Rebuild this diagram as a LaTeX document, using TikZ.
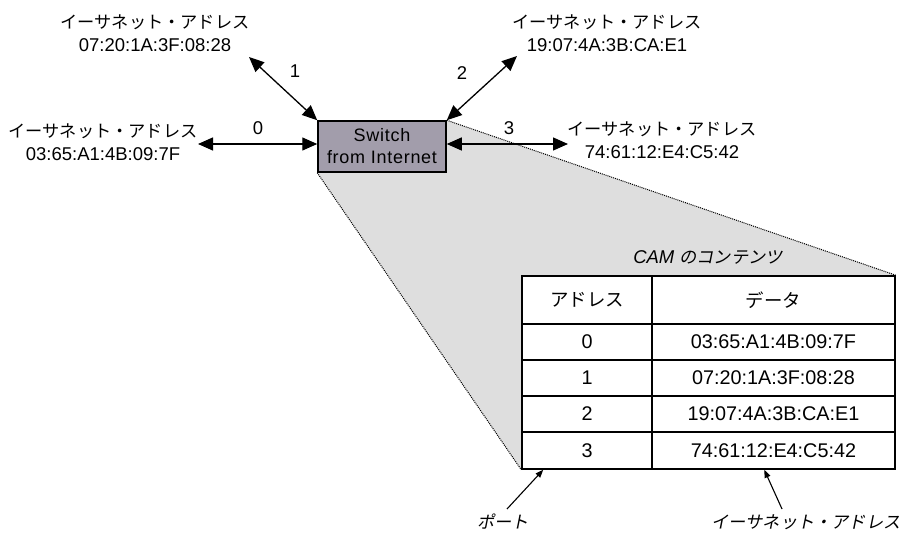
\documentclass[tikz,border=0pt]{standalone}
\usepackage{fontspec}
\setmainfont{Liberation Sans}
\newfontfamily\jp[Scale=0.93]{Noto Sans CJK JP}
\newfontfamily\jpit[Scale=0.93,FakeSlant=0.2]{Noto Sans CJK JP}
\usetikzlibrary{arrows.meta,backgrounds,calc}
\definecolor{swfill}{HTML}{A29DAB}
\definecolor{shadegray}{HTML}{DEDEDE}
\tikzset{
  lbl/.style={align=center,inner sep=0pt,font=\fontsize{18.5}{23}\selectfont},
  num/.style={inner sep=0pt,font=\fontsize{18.5}{22}\selectfont},
  dbl/.style={line width=1.3pt,{Triangle[length=15pt,width=13pt]}-{Triangle[length=15pt,width=13pt]}},
  sgl/.style={line width=1.1pt,-{Triangle[length=8pt,width=6pt]}},
  switchbox/.style={draw,line width=1.5pt,fill=swfill,align=center,inner sep=0pt,
    minimum width=128pt,minimum height=51pt,font=\fontsize{18}{22}\selectfont\addfontfeature{LetterSpace=4}},
  cell/.style={draw,line width=1.5pt,fill=white,inner sep=0pt,font=\fontsize{19.8}{24}\selectfont},
  dotline/.style={line width=1pt,densely dotted}
}
\begin{document}
\begin{tikzpicture}[x=1pt,y=-1pt]
\useasboundingbox (0,0) rectangle (907,534);
% switch
\node[switchbox] (sw) at (382,146.5) {Switch\\from Internet};
% table
\node[cell,minimum width=130pt,minimum height=48pt] (h1) at (587,300) {{\jp アドレス}};
\node[cell,minimum width=243pt,minimum height=48pt] (h2) at (773.5,300) {{\jp データ}};
\node[cell,minimum width=130pt,minimum height=36pt] (r0a) at (587,342) {0};
\node[cell,minimum width=243pt,minimum height=36pt] (r0b) at (773.5,342) {03:65:A1:4B:09:7F};
\node[cell,minimum width=130pt,minimum height=36pt] (r1a) at (587,378) {1};
\node[cell,minimum width=243pt,minimum height=36pt] (r1b) at (773.5,378) {07:20:1A:3F:08:28};
\node[cell,minimum width=130pt,minimum height=36pt] (r2a) at (587,414) {2};
\node[cell,minimum width=243pt,minimum height=36pt] (r2b) at (773.5,414) {19:07:4A:3B:CA:E1};
\node[cell,minimum width=130pt,minimum height=37pt] (r3a) at (587,450.5) {3};
\node[cell,minimum width=243pt,minimum height=37pt] (r3b) at (773.5,450.5) {74:61:12:E4:C5:42};
% shaded zoom region
\begin{scope}[on background layer]
  \fill[shadegray] (sw.north east) -- (h2.north east) -- (r3a.south west) -- (sw.south west) -- cycle;
  \draw[dotline] (sw.north east) -- (h2.north east);
  \draw[dotline] (sw.south west) -- (r3a.south west);
\end{scope}
% title
\node[lbl,font=\fontsize{18.5}{23}\selectfont\itshape] (cam) at (708,257) {CAM {\jpit のコンテンツ}};
% port labels
\node[lbl] (l1) at (155,33.5) {{\jp イーサネット・アドレス}\\07:20:1A:3F:08:28};
\node[lbl] (l2) at (607,33.5) {{\jp イーサネット・アドレス}\\19:07:4A:3B:CA:E1};
\node[lbl] (l0) at (103,142.5) {{\jp イーサネット・アドレス}\\03:65:A1:4B:09:7F};
\node[lbl] (l3) at (662,140) {{\jp イーサネット・アドレス}\\74:61:12:E4:C5:42};
\node[num] (n1) at (295,71) {1};
\node[num] (n2) at (462,73) {2};
\node[num] (n0) at (258,128) {0};
\node[num] (n3) at (509,128) {3};
% arrows
\coordinate (a1) at (249,57);
\coordinate (a2) at (517,56);
\coordinate (a0) at (198,144);
\coordinate (a3) at (568,144);
\draw[dbl] (a1) -- (sw.north west);
\draw[dbl] (a2) -- (sw.north east);
\draw[dbl] (a0) -- (a0 -| sw.west);
\draw[dbl] (a3 -| sw.east) -- (a3);
% bottom labels
\node[lbl] (port) at (503,522) {{\jpit ポート}};
\node[lbl] (eth) at (806,522) {{\jpit イーサネット・アドレス}};
\coordinate (b1) at (507,509);
\coordinate (b2) at (782,509);
\draw[sgl] (b1) -- ($(r3a.south west)+(22,0)$);
\draw[sgl] (b2) -- ($(r3b.south west)+(113,0)$);
\end{tikzpicture}
\end{document}
